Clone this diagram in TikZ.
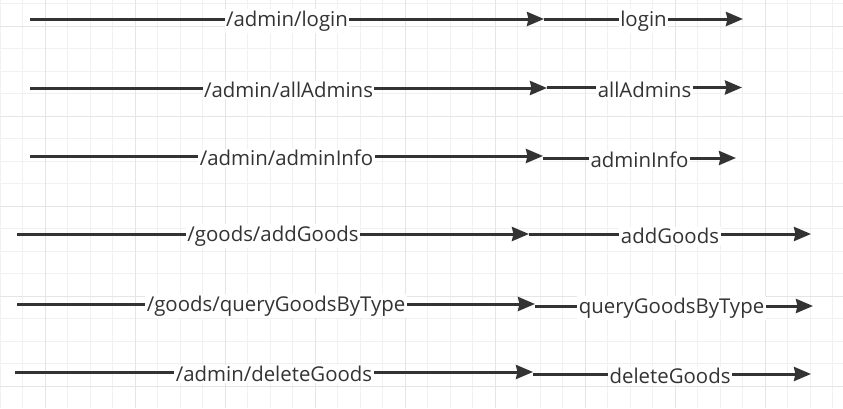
\documentclass[tikz,border=0pt]{standalone}
\usepackage{fontspec}
\setmainfont{Open Sans}
\usetikzlibrary{arrows.meta}
\definecolor{ink}{HTML}{333333}
\definecolor{gridminor}{HTML}{F1F1F1}
\definecolor{gridmajor}{HTML}{E5E5E5}
\begin{document}
\begin{tikzpicture}[x=1bp,y=-1bp,
  conn/.style={draw=ink, line width=3bp, -{Stealth[length=17bp,width=14bp,inset=1.5bp]}},
  lbl/.style={fill=white, text=ink, inner sep=1.5bp, yshift=-2bp, font=\fontsize{20.4bp}{22bp}\selectfont},
  minorline/.style={draw=gridminor, line width=1bp},
  majorline/.style={draw=gridmajor, line width=1bp}]
\useasboundingbox (0,0) rectangle (843,408);
\fill[white] (0,0) rectangle (843,408);
\begin{scope}
\clip (0,0) rectangle (843,408);
\foreach \i in {0,...,37} \draw[minorline] (22.5*\i,0) -- (22.5*\i,408);
\foreach \k in {0,...,17} \draw[minorline] (0,3.5+22.5*\k) -- (843,3.5+22.5*\k);
\foreach \i in {0,...,8} \draw[majorline] (45+90*\i,0) -- (45+90*\i,408);
\foreach \k in {0,...,4} \draw[majorline] (0,26+90*\k) -- (843,26+90*\k);
\end{scope}
% end points
\coordinate (s1) at (30,19);  \coordinate (m1) at (544,19);  \coordinate (n1) at (544,19);  \coordinate (e1) at (743,19);
\coordinate (s2) at (30,88);  \coordinate (m2) at (547,88);  \coordinate (n2) at (547,87.5); \coordinate (e2) at (742,87.5);
\coordinate (s3) at (30,156); \coordinate (m3) at (543,156); \coordinate (n3) at (543,158); \coordinate (e3) at (736,158);
\coordinate (s4) at (17,234); \coordinate (m4) at (529,234); \coordinate (n4) at (529,234); \coordinate (e4) at (811,234);
\coordinate (s5) at (17,304); \coordinate (m5) at (535,304); \coordinate (n5) at (535,306); \coordinate (e5) at (813,306);
\coordinate (s6) at (15,372); \coordinate (m6) at (533,372); \coordinate (n6) at (533,374); \coordinate (e6) at (811,374);
% connectors
\draw[conn] (s1) -- node[lbl] (l1a) {/admin/login} (m1);
\draw[conn] (n1) -- node[lbl] (l1b) {login} (e1);
\draw[conn] (s2) -- node[lbl] (l2a) {/admin/allAdmins} (m2);
\draw[conn] (n2) -- node[lbl] (l2b) {allAdmins} (e2);
\draw[conn] (s3) -- node[lbl] (l3a) {/admin/adminInfo} (m3);
\draw[conn] (n3) -- node[lbl] (l3b) {adminInfo} (e3);
\draw[conn] (s4) -- node[lbl] (l4a) {/goods/addGoods} (m4);
\draw[conn] (n4) -- node[lbl] (l4b) {addGoods} (e4);
\draw[conn] (s5) -- node[lbl] (l5a) {/goods/queryGoodsByType} (m5);
\draw[conn] (n5) -- node[lbl,pos=0.491] (l5b) {queryGoodsByType} (e5);
\draw[conn] (s6) -- node[lbl] (l6a) {/admin/deleteGoods} (m6);
\draw[conn] (n6) -- node[lbl,pos=0.493] (l6b) {deleteGoods} (e6);
\end{tikzpicture}
\end{document}
